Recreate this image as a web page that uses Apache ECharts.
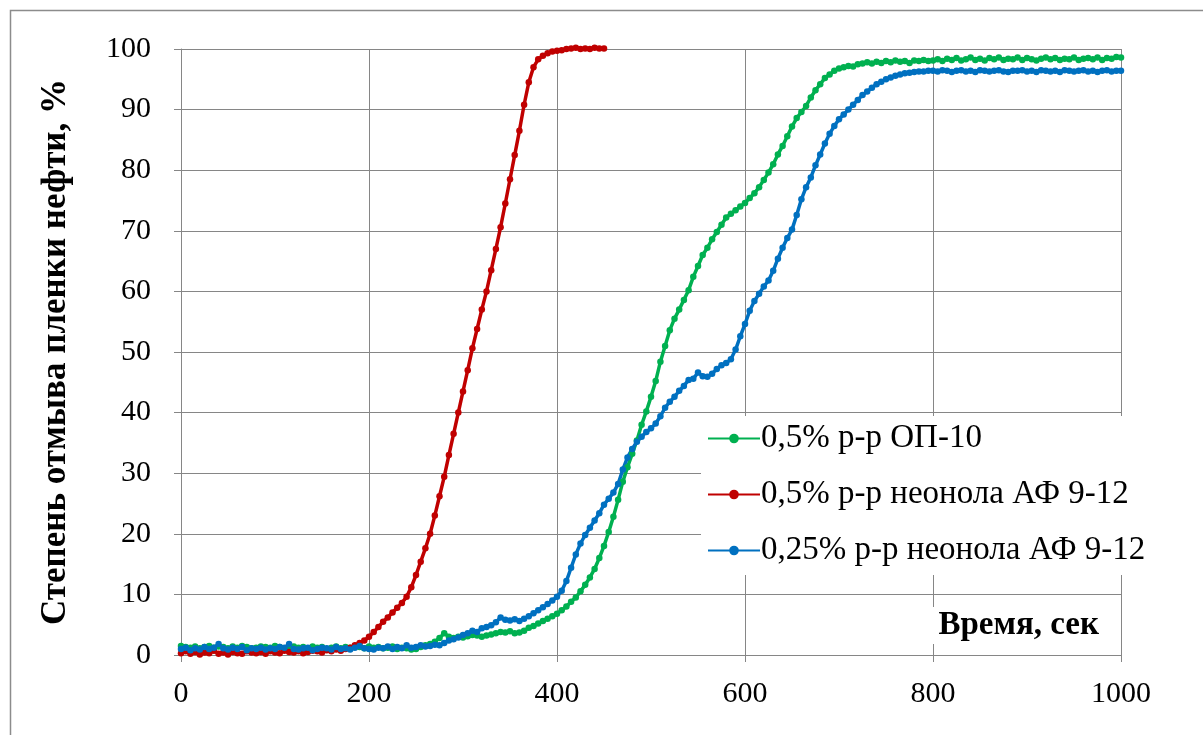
<!DOCTYPE html>
<html><head><meta charset="utf-8">
<script src="https://cdn.jsdelivr.net/npm/echarts@6/dist/echarts.min.js"></script>
<style>html,body{margin:0;padding:0;background:#fff}#c{width:1203px;height:735px}</style>
</head><body><div id="c"></div>
<script>
// Sampling times (seconds), 5 s step
const timeStep = 5;
// Series values
const seriesNames = ['0,5% р-р ОП-10', '0,5% р-р неонола АФ 9-12', '0,25% р-р неонола АФ 9-12'];
const greenValues = [
1.5,1.3,1.2,1.4,1.1,1.3,1.5,1.2,1.4,1.3,1.1,1.4,1.2,1.5,1.3,1.1,1.2,1.4,1.3,1.2,1.5,1.3,1.1,1.2,1.4,1.2,1.3,1.1,1.4,1.2,1.3,1.0,1.2,1.4,1.1,1.3,1.2,1.5,1.3,1.1,1.4,1.2,1.3,1.1,1.2,1.4,1.0,1.2,1.1,0.9,
1.0,1.3,1.6,1.8,2.2,2.8,3.6,3.0,2.8,3.0,
2.9,3.1,3.3,3.2,3.0,3.2,3.4,3.6,3.8,3.7,
3.9,3.6,3.7,4.0,4.5,4.8,5.2,5.6,6.0,6.4,
6.8,7.4,8.0,8.8,9.5,10.5,11.6,12.8,14.2,16.0,
18.0,20.3,22.8,25.6,28.6,31,33.2,35.4,38,40.2,
42.6,45.2,48.4,51,53.6,55.5,57,58.6,60.2,62.4,
64.2,66,67.2,68.6,69.8,71,72.2,72.8,73.4,74,
74.6,75.4,76.2,77.2,78.4,79.6,81,82.6,84,85.6,
87.2,88.6,89.6,90.6,92,93.2,94.2,95.2,95.8,96.4,
96.8,97,97.2,97.1,97.5,97.6,97.8,97.6,97.9,97.7,
98,97.8,98.1,97.9,98,97.7,98.1,98,98.2,98,
98.1,98.3,98.0,98.4,98.2,98.5,98.1,98.3,98.6,98.2,98.4,98.1,98.5,98.3,98.6,98.2,98.4,98.3,98.6,98.2,98.5,98.3,98.1,98.4,98.6,98.3,98.5,98.2,98.4,98.3,98.6,98.2,98.4,98.5,98.3,98.6,98.2,98.5,98.4,98.7,98.6
];
const redValues = [
0.3,0.6,0.2,0.5,0.1,0.4,0.3,0.7,0.2,0.4,0.1,0.5,0.3,0.2,0.6,0.4,0.3,0.5,0.2,0.6,0.4,0.3,0.7,0.5,0.4,0.6,0.3,0.5,0.7,0.6,0.4,0.8,0.6,0.9,0.7,1.0,1.2,
1.6,2.0,2.4,3.0,3.8,4.6,5.5,6.2,7.0,7.8,8.6,9.6,11.2,13.2,15.4,17.6,20,23,26.2,29.4,33,36.5,40,43.5,47,50.6,53.8,57,60,63.5,67,70.6,74.5,78.5,82.5,86.5,90.8,94.5,97,98.3,98.9,99.3,99.6,99.7,99.8,100,100.1,100.2,100,100.1,100,100.2,100.1,100.1
];
const blueValues = [
1.0,1.2,0.8,1.1,0.9,1.3,1.0,1.2,1.8,1.1,0.9,1.2,1.0,1.3,0.8,1.1,1.0,1.2,0.9,1.1,1.0,1.3,1.2,1.8,1.0,0.9,1.1,1.2,0.8,1.0,1.2,1.1,0.9,1.3,1.0,1.1,0.9,1.2,1.5,1.1,1.0,0.9,1.2,1.1,1.4,1.0,1.3,1.1,1.6,1.2,
1.3,1.6,1.4,1.5,1.7,1.6,2.0,2.4,2.6,2.9,
3.3,3.6,4.0,3.8,4.4,4.6,4.9,5.4,6.2,5.8,
5.7,5.9,5.6,6.0,6.4,6.9,7.4,7.9,8.4,9.0,
9.6,10.6,12.2,14.4,16.6,18.4,19.8,21,22.2,23.4,
24.8,25.8,26.8,28.2,30.6,32.6,34.0,35.2,36.0,36.8,
37.4,38.2,39.4,40.8,41.8,42.6,43.6,44.4,45.4,45.6,
46.6,46.0,45.9,46.4,47.2,47.8,48.2,48.8,50.4,52.6,
54.6,56.8,58.4,59.6,60.8,61.8,63.4,65.4,67.2,68.8,
70.2,72.6,75.2,77.2,78.8,80.8,82.6,84.4,86.0,87.3,
88.4,89.2,90.0,90.8,91.6,92.4,93.0,93.6,94.2,94.6,
95.0,95.3,95.6,95.8,96.0,96.1,96.2,96.3,96.3,96.4,
96.4,96.3,96.5,96.4,96.2,96.4,96.5,96.3,96.4,96.2,96.5,96.4,96.3,96.4,96.5,96.3,96.2,96.4,96.4,96.5,96.3,96.4,96.2,96.5,96.4,96.3,96.4,96.2,96.5,96.4,96.3,96.4,96.5,96.3,96.4,96.2,96.4,96.5,96.3,96.4,96.4
];
const xTicks = [0, 200, 400, 600, 800, 1000];
const yTicks = [0,10,20,30,40,50,60,70,80,90,100];
const xAxisTitle = 'Время, сек';
const yAxisTitle = 'Степень отмыва пленки нефти, %';

const colors = ['#00B050', '#C00000', '#0070C0'];
const toPairs = vals => vals.map((v, i) => [i * timeStep, v]);
const serif = 'Liberation Serif';
const gridColor = '#868686';

const chart = echarts.init(document.getElementById('c'), null, {renderer: 'canvas'});
const mk = (name, vals, color) => ({
  name, type: 'line', data: toPairs(vals), clip: false,
  symbol: 'circle', symbolSize: 6.5, showSymbol: true,
  lineStyle: {color, width: 3.5}, itemStyle: {color},
  emphasis: {disabled: true}, animation: false
});
chart.setOption({
  animation: false,
  color: colors,
  textStyle: {fontFamily: serif},
  grid: {left: 181, right: 82, top: 49, bottom: 80, containLabel: false},
  xAxis: {
    type: 'value', min: xTicks[0], max: xTicks[xTicks.length-1], interval: 200,
    axisLine: {lineStyle: {color: gridColor, width: 1}},
    axisTick: {show: true, length: 7, lineStyle: {color: gridColor}},
    splitLine: {show: true, lineStyle: {color: gridColor, width: 1}},
    axisLabel: {fontFamily: serif, fontSize: 30, color: '#000', margin: 24,
      formatter: v => String(v)}
  },
  yAxis: {
    type: 'value', min: yTicks[0], max: yTicks[yTicks.length-1], interval: 10,
    name: yAxisTitle, nameLocation: 'middle', nameRotate: 90, nameGap: 108,
    nameTextStyle: {fontFamily: serif, fontSize: 35, fontWeight: 'bold', color: '#000'},
    axisLine: {show: true, lineStyle: {color: gridColor, width: 1}},
    axisTick: {show: true, length: 7, lineStyle: {color: gridColor}},
    splitLine: {show: true, lineStyle: {color: gridColor, width: 1}},
    axisLabel: {fontFamily: serif, fontSize: 30, color: '#000', margin: 30,
      formatter: v => String(v)}
  },
  legend: {
    orient: 'vertical', left: 701, top: 416, itemGap: 23,
    itemWidth: 52, itemHeight: 12, backgroundColor: '#fff', padding: [6, 10, 8, 6],
    textStyle: {fontFamily: serif, fontSize: 33, color: '#000', padding: [0, 0, 0, -4]},
    data: seriesNames
  },
  graphic: [
    {type: 'rect', left: 8, top: 8, shape: {width: 1210, height: 745},
     style: {fill: 'none', stroke: '#8c8c8c', lineWidth: 1.5}, silent: true, z: 0},
    {type: 'text', right: 96, top: 607, z: 100,
     style: {text: xAxisTitle, fontFamily: serif, fontSize: 33, fontWeight: 'bold', fill: '#000',
       backgroundColor: '#fff', padding: [2, 8]}}
  ],
  series: [
    mk(seriesNames[0], greenValues, colors[0]),
    mk(seriesNames[1], redValues, colors[1]),
    mk(seriesNames[2], blueValues, colors[2])
  ]
});
</script></body></html>
